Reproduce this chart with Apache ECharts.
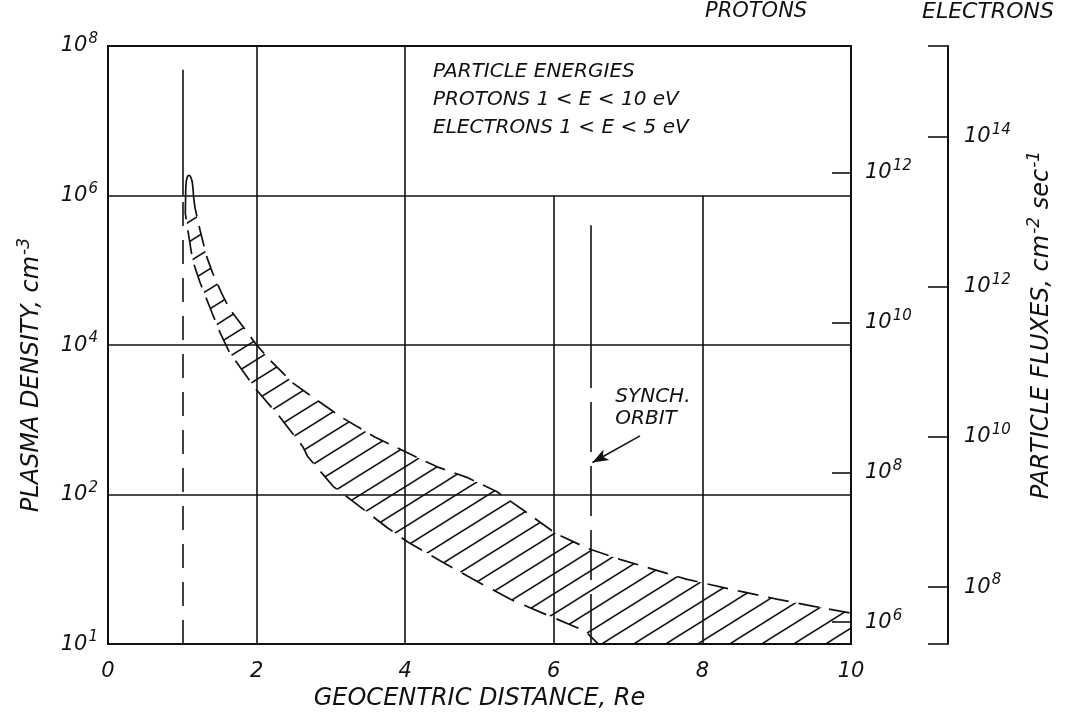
<!DOCTYPE html>
<html>
<head>
<meta charset="utf-8">
<script src="https://cdn.jsdelivr.net/npm/echarts@6/dist/echarts.min.js"></script>
<style>
  html, body { margin: 0; padding: 0; background: #fff; }
  #chart { width: 1071px; height: 716px; }
</style>
</head>
<body>
<div id="chart"></div>
<script>
// Geocentric distance (Re) and plasma density (cm^-3) along the edges of the plasmasphere band
const archDistance  = [1.045, 1.05, 1.07, 1.09, 1.12, 1.14, 1.15];
const archDensity   = [1.0e6, 1.45e6, 1.8e6, 1.86e6, 1.7e6, 1.35e6, 1.0e6];

const upperDistance = [1.15, 1.17, 1.24, 1.33, 1.41, 1.53, 1.64, 1.88, 2.00, 2.18, 2.49, 2.79, 3.15, 3.59, 4.01, 4.43, 4.83, 5.23, 5.63, 6.03, 6.46, 6.90, 7.34, 7.78, 8.5, 9.0, 9.5, 10.0];
const upperDensity  = [1.0e6, 6.9e5, 3.4e5, 1.5e5, 9.1e4, 4.9e4, 3.0e4, 1.45e4, 1.0e4, 6.3e3, 3.1e3, 1.9e3, 1.07e3, 590, 370, 235, 170, 110, 58, 30, 19, 13.5, 10, 7.4, 5.1, 4.0, 3.2, 2.6];

const lowerDistance = [1.045, 1.04, 1.09, 1.14, 1.24, 1.40, 1.51, 1.64, 1.80, 2.00, 2.31, 2.62, 2.69, 3.03, 3.39, 3.76, 4.04, 4.47, 4.91, 5.41, 5.91, 6.42, 6.6];
const lowerDensity  = [1.0e6, 5.8e5, 2.75e5, 1.35e5, 6.8e4, 2.7e4, 1.45e4, 7.8e3, 4.7e3, 2.5e3, 1.1e3, 440, 320, 129, 69, 36, 23, 13, 7.4, 4.0, 2.45, 1.5, 1.0];

// Axis ranges and tick labels
const distanceTicks = [0, 2, 4, 6, 8, 10];
const densityTickValues = [1, 1e2, 1e4, 1e6, 1e8];
const densityTickPowers = ['1', '2', '4', '6', '8'];
const protonFluxPowers = [6, 8, 10, 12];
const electronFluxPowers = [8, 10, 12, 14];
const protonRange = [5.707, 13.693];     // log10 flux, cm^-2 s^-1
const electronRange = [7.24, 15.21];     // log10 flux, cm^-2 s^-1

const INK = '#111';
const FONT = 'DejaVu Sans';
const baseText = { fontFamily: FONT, fontStyle: 'italic', color: INK, fontSize: 20 };
const supRich = {
  s: { fontFamily: FONT, fontStyle: 'italic', color: INK, fontSize: 15, padding: [0, 0, 13, 1] },
  b: { fontFamily: FONT, fontStyle: 'italic', color: INK, fontSize: 21 }
};
const titleRich = {
  s: { fontFamily: FONT, fontStyle: 'italic', color: INK, fontSize: 17, padding: [0, 0, 15, 1] }
};
const axisTitle = { fontFamily: FONT, fontStyle: 'italic', color: INK, fontSize: 24 };

function toPowerLabel(p) { return '{b|10}{s|' + p + '}'; }

// Diagonal hatching used to fill the density band
function hatchPattern(w, h, lw) {
  const c = document.createElement('canvas');
  c.width = w; c.height = h;
  const g = c.getContext('2d');
  g.strokeStyle = INK;
  g.lineWidth = lw;
  g.beginPath();
  for (let n = 0; n <= 2; n++) {
    g.moveTo(-2, n * h + 2 * h / w);
    g.lineTo(w + 2, n * h - (w + 2) * h / w);
  }
  g.stroke();
  return c;
}
const hatch = { image: hatchPattern(32, 20, 1.5), repeat: 'repeat' };

const pairs = (xs, ys) => xs.map((x, i) => [x, ys[i]]);

function vline(x, y0, y1, style) {
  return [{ coord: [x, y0], lineStyle: style }, { coord: [x, y1] }];
}
const solid = { color: INK, width: 1.6, type: 'solid' };
const grid = { color: INK, width: 1.6, type: 'solid' };

const chart = echarts.init(document.getElementById('chart'), null, { renderer: 'canvas' });

chart.setOption({
  animation: false,
  backgroundColor: '#fff',
  title: [
    {
      text: 'PARTICLE ENERGIES\nPROTONS 1 < E < 10 eV\nELECTRONS 1 < E < 5 eV',
      left: 433, top: 58, padding: 0,
      textStyle: Object.assign({}, baseText, { fontWeight: 'normal', lineHeight: 28 })
    },
    { text: 'PROTONS', left: 705, top: 0, padding: 0,
      textStyle: Object.assign({}, baseText, { fontSize: 21, fontWeight: 'normal', lineHeight: 24 }) },
    { text: 'ELECTRONS', left: 922, top: 0, padding: 0,
      textStyle: Object.assign({}, baseText, { fontSize: 22, fontWeight: 'normal', lineHeight: 24 }) }
  ],
  grid: { left: 108, right: 220, top: 46, bottom: 71, show: true, borderColor: INK, borderWidth: 2 },
  xAxis: {
    type: 'value', min: 0, max: 10, interval: 2,
    name: 'GEOCENTRIC DISTANCE, Re', nameLocation: 'middle', nameGap: 42,
    nameTextStyle: axisTitle,
    axisLine: { lineStyle: { color: INK, width: 2 } },
    axisTick: { show: false },
    splitLine: { show: false },
    axisLabel: Object.assign({}, baseText, { fontSize: 21, margin: 17,
      formatter: v => distanceTicks.includes(v) ? String(v) : '' })
  },
  yAxis: [
    {
      type: 'log', logBase: 100, min: 1, max: 1e8,
      name: 'PLASMA DENSITY, cm{s|-3}', nameLocation: 'middle', nameGap: 60, nameRotate: 90,
      nameTextStyle: Object.assign({}, axisTitle, { rich: titleRich, padding: [0, 60, 0, 0] }),
      axisLine: { lineStyle: { color: INK, width: 2 } },
      axisTick: { show: false },
      splitLine: { show: true, lineStyle: grid },
      axisLabel: { margin: 10, rich: supRich,
        formatter: v => {
          const i = densityTickValues.findIndex(t => Math.abs(Math.log10(t) - Math.log10(v)) < 1e-6);
          return i < 0 ? '' : toPowerLabel(densityTickPowers[i]);
        } }
    },
    {
      type: 'value', min: protonRange[0], max: protonRange[1], position: 'right',
      axisLine: { show: false },
      axisTick: { show: true, inside: true, length: 19, lineStyle: { color: INK, width: 1.6 }, customValues: protonFluxPowers },
      axisLabel: { margin: 14, rich: supRich, customValues: protonFluxPowers, formatter: v => toPowerLabel(v) },
      splitLine: { show: false }
    },
    {
      type: 'value', min: electronRange[0], max: electronRange[1], position: 'right', offset: 97,
      name: 'PARTICLE FLUXES, cm{s|-2} sec{s|-1}', nameLocation: 'middle', nameGap: 78, nameRotate: 90,
      nameTextStyle: Object.assign({}, axisTitle, { rich: titleRich, padding: [0, 0, 0, 40] }),
      axisLine: { show: true, lineStyle: { color: INK, width: 2 } },
      axisTick: { show: true, inside: true, length: 20, lineStyle: { color: INK, width: 1.6 },
        customValues: [electronRange[0]].concat(electronFluxPowers, [electronRange[1]]) },
      axisLabel: { margin: 16, rich: supRich, customValues: electronFluxPowers, formatter: v => toPowerLabel(v) },
      splitLine: { show: false }
    }
  ],
  series: [
    {
      name: 'band',
      type: 'custom',
      coordinateSystem: 'cartesian2d',
      data: [[upperDistance[0], upperDensity[0]]],
      silent: true,
      z: 2,
      renderItem: function (params, api) {
        const pts = [];
        for (let i = 1; i < upperDistance.length; i++) pts.push(api.coord([upperDistance[i], upperDensity[i]]));
        pts.push(api.coord([upperDistance[upperDistance.length - 1], densityTickValues[0]]));
        for (let i = lowerDistance.length - 1; i >= 1; i--) pts.push(api.coord([lowerDistance[i], lowerDensity[i]]));
        return { type: 'polygon', shape: { points: pts }, style: { fill: hatch, stroke: null } };
      }
    },
    {
      name: 'upper edge', type: 'line', data: pairs(upperDistance, upperDensity), yAxisIndex: 0,
      showSymbol: false, silent: true, z: 3,
      lineStyle: { color: INK, width: 1.7, type: [21, 10] }
    },
    {
      name: 'lower edge', type: 'line', data: pairs(lowerDistance, lowerDensity), yAxisIndex: 0,
      showSymbol: false, silent: true, z: 3,
      lineStyle: { color: INK, width: 1.7, type: [24, 11] }
    },
    {
      name: 'arch', type: 'line', data: pairs(archDistance, archDensity), smooth: true,
      showSymbol: false, silent: true, z: 3,
      lineStyle: { color: INK, width: 1.7 }
    },
    {
      name: 'guides', type: 'line', data: [], silent: true, z: 1,
      markLine: {
        silent: true, symbol: ['none', 'none'], label: { show: false }, animation: false,
        data: [
          vline(2, 1, 1e8, grid),
          vline(4, 1, 1e8, grid),
          vline(6, 1, 1e6, grid),
          vline(8, 1, 1e6, grid),
          vline(1, 1e6, 4.8e7, solid),
          vline(1, 1, 1e6, { color: INK, width: 1.6, type: [24, 14] }),
          vline(6.5, 1e4, 4.0e5, solid),
          vline(6.5, 1, 1e4, { color: INK, width: 1.6, type: [50, 14] })
        ]
      }
    },
    {
      name: 'synch orbit', type: 'line', data: [], silent: true, z: 4,
      markLine: {
        silent: true, symbol: ['none', 'arrow'], symbolSize: [9, 16], label: { show: false }, animation: false,
        lineStyle: { color: INK, width: 1.6, type: 'solid' },
        data: [[{ coord: [7.16, 610] }, { coord: [6.52, 268] }]]
      },
      markPoint: {
        silent: true, symbol: 'circle', symbolSize: 0, animation: false,
        data: [{ coord: [6.76, 1445], label: { show: true, position: 'right', distance: 5,
          formatter: 'SYNCH.\nORBIT', lineHeight: 22, align: 'left',
          fontFamily: FONT, fontStyle: 'italic', color: INK, fontSize: 20 } }]
      }
    }
  ]
});
</script>
</body>
</html>
